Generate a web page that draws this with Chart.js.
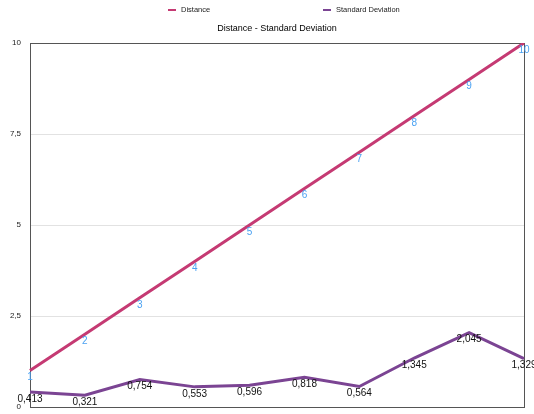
<!DOCTYPE html>
<html>
<head>
<meta charset="utf-8">
<script src="https://cdn.jsdelivr.net/npm/chart.js@4/dist/chart.umd.min.js"></script>
<style>
  html, body { margin: 0; padding: 0; background: #fff; }
  #wrap { width: 534px; height: 414px; }
</style>
</head>
<body>
<div id="wrap"><canvas id="chart" width="534" height="414"></canvas></div>
<script>
// Measurement points along the x axis
const categories = ['1', '2', '3', '4', '5', '6', '7', '8', '9', '10'];
// Distance per measurement
const distance = [1, 2, 3, 4, 5, 6, 7, 8, 9, 10];
// Standard deviation per measurement
const standardDeviation = [0.413, 0.321, 0.754, 0.553, 0.596, 0.818, 0.564, 1.345, 2.045, 1.329];
// Y axis tick values
const yTicks = [0, 2.5, 5, 7.5, 10];

const TITLE = 'Distance - Standard Deviation';
const FONT = '"Liberation Sans", Arial, Helvetica, sans-serif';
const COLOR_DISTANCE = '#c53a73';
const COLOR_STDDEV = '#7b4493';

// Decimal comma formatting
const fmt = v => String(v).replace('.', ',');

// Value labels drawn just under each point
const valueLabels = {
  id: 'valueLabels',
  afterDatasetsDraw(chart) {
    const ctx = chart.ctx;
    ctx.save();
    ctx.font = '10px ' + FONT;
    ctx.textAlign = 'center';
    ctx.textBaseline = 'top';
    chart.data.datasets.forEach((ds, i) => {
      const meta = chart.getDatasetMeta(i);
      ctx.fillStyle = ds.labelColor;
      meta.data.forEach((pt, j) => {
        ctx.fillText(fmt(ds.data[j]), pt.x, pt.y + 2);
      });
    });
    ctx.restore();
  }
};

// Frame around the plot area
const plotFrame = {
  id: 'plotFrame',
  beforeDatasetsDraw(chart) {
    const {ctx, chartArea: a} = chart;
    ctx.save();
    ctx.strokeStyle = '#555';
    ctx.lineWidth = 1;
    ctx.strokeRect(Math.round(a.left) + 0.5, Math.round(a.top) + 0.5,
                   Math.round(a.right - a.left), Math.round(a.bottom - a.top));
    ctx.restore();
  }
};

// Legend row and title across the top, title centred over the plot area
const header = {
  id: 'header',
  afterDraw(chart) {
    const {ctx, chartArea: a} = chart;
    ctx.save();
    ctx.fillStyle = '#000';
    ctx.font = '9px ' + FONT;
    ctx.textAlign = 'center';
    ctx.textBaseline = 'middle';
    ctx.fillText(TITLE, (a.left + a.right) / 2, 29);

    const starts = [168, 323];
    ctx.font = '7.5px ' + FONT;
    ctx.textAlign = 'left';
    chart.data.datasets.forEach((ds, i) => {
      const x = starts[i], y = 10;
      ctx.strokeStyle = ds.borderColor;
      ctx.lineWidth = 2;
      ctx.beginPath();
      ctx.moveTo(x, y);
      ctx.lineTo(x + 8, y);
      ctx.stroke();
      ctx.fillStyle = '#222';
      ctx.fillText(ds.label, x + 13, y);
    });
    ctx.restore();
  }
};

new Chart(document.getElementById('chart'), {
  type: 'line',
  data: {
    labels: categories,
    datasets: [
      {
        label: 'Distance',
        data: distance,
        borderColor: COLOR_DISTANCE,
        backgroundColor: COLOR_DISTANCE,
        labelColor: '#4ba2f2',
        borderWidth: 3,
        pointRadius: 0,
        tension: 0
      },
      {
        label: 'Standard Deviation',
        data: standardDeviation,
        borderColor: COLOR_STDDEV,
        backgroundColor: COLOR_STDDEV,
        labelColor: '#111',
        borderWidth: 3,
        pointRadius: 0,
        tension: 0
      }
    ]
  },
  options: {
    responsive: false,
    animation: false,
    layout: { padding: { top: 43, right: 10, bottom: 7, left: 0 } },
    plugins: {
      legend: { display: false },
      tooltip: { enabled: false },
      title: { display: false }
    },
    scales: {
      x: {
        display: false,
        offset: false
      },
      y: {
        min: 0,
        max: 10,
        afterFit(scale) { scale.width = 30; },
        afterBuildTicks(scale) { scale.ticks = yTicks.map(v => ({ value: v })); },
        ticks: {
          color: '#222',
          padding: 2,
          font: { family: FONT, size: 8 },
          callback: v => fmt(v)
        },
        grid: { color: '#e2e2e2', drawTicks: true, tickLength: 7, tickColor: 'rgba(0,0,0,0)' },
        border: { display: true, color: '#555', width: 1 }
      }
    }
  },
  plugins: [valueLabels, plotFrame, header]
});
</script>
</body>
</html>
